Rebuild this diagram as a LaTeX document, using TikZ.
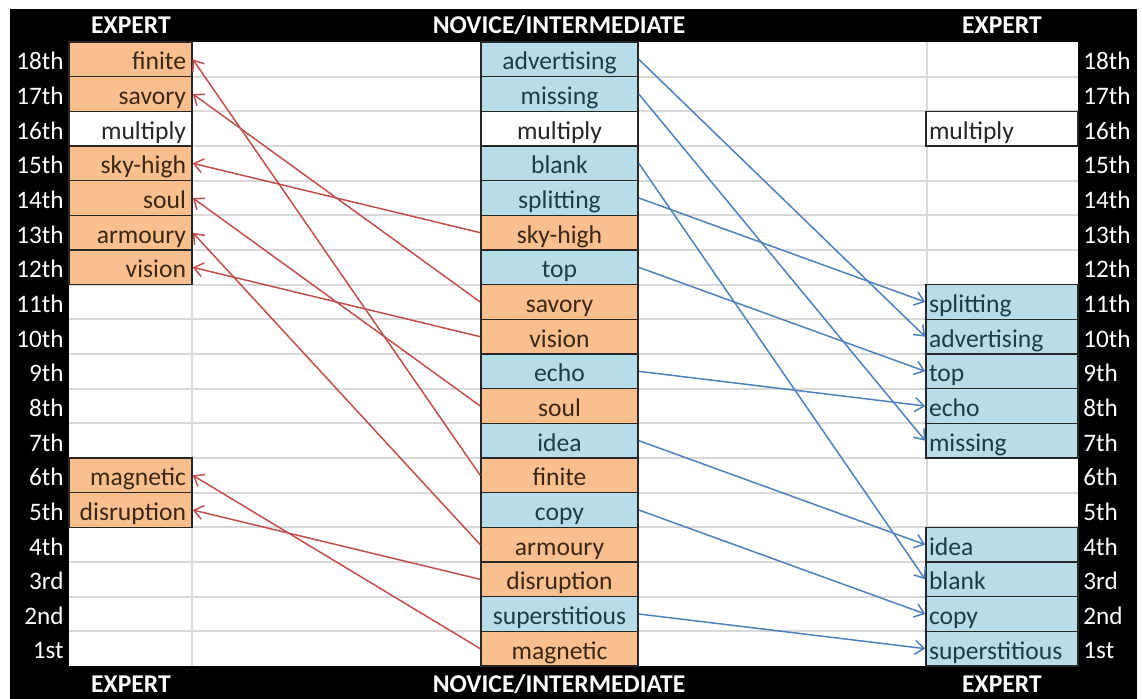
\documentclass[tikz,border=0pt]{standalone}
\usepackage{fontspec}
\setmainfont{Carlito}
\usetikzlibrary{arrows.meta}
\definecolor{cellorange}{HTML}{FABF8F}
\definecolor{cellblue}{HTML}{B7DEE8}
\definecolor{linkred}{HTML}{C0504D}
\definecolor{linkblue}{HTML}{4F81BD}
\definecolor{gridgray}{HTML}{D9D9D9}
\definecolor{textbrown}{HTML}{3B2714}
\definecolor{textteal}{HTML}{1A3D4C}
\tikzset{
  cell/.style={draw=black!85, line width=0.8pt, minimum height=17.33pt, inner ysep=0pt,
    text height=11pt, text depth=0.4pt, font=\fontsize{12.8}{14}\selectfont},
  lcell/.style={cell, text width=55.5pt, inner xsep=3pt, align=right},
  mcell/.style={cell, text width=72.5pt, inner xsep=3pt, align=center},
  rcell/.style={cell, text width=73pt, inner xsep=1.5pt, align=left},
  orange/.style={fill=cellorange, text=textbrown},
  blue/.style={fill=cellblue, text=textteal},
  plain/.style={fill=white, text=black!85},
  ranklbl/.style={text=white, inner sep=0pt, yshift=-1pt, font=\fontsize{12.6}{14}\selectfont},
  heading/.style={text=white, inner sep=0pt, font=\fontsize{12.8}{14}\selectfont\bfseries},
  gridline/.style={gridgray, line width=1pt},
  redlink/.style={linkred, line width=0.75pt, -{Straight Barb[length=4.5pt,width=7pt]}},
  bluelink/.style={linkblue, line width=0.75pt, -{Straight Barb[length=4.5pt,width=7pt]}}
}
\begin{document}
\begin{tikzpicture}[x=0.5pt, y=-0.5pt]
    %%%%% FRAME %%%%%
    \useasboundingbox (0,0) rectangle (1142,699);
    \fill[white] (0,0) rectangle (1142,699);
    \fill[black] (10,9) rectangle (1137,699);
    \fill[white] (69,42) rectangle (1078,666);

    \node[heading] (htl) at (131,25) {EXPERT};
    \node[heading] (htm) at (559,25) {NOVICE/INTERMEDIATE};
    \node[heading] (htr) at (1002,25) {EXPERT};
    \node[heading] (hbl) at (131,684) {EXPERT};
    \node[heading] (hbm) at (559,684) {NOVICE/INTERMEDIATE};
    \node[heading] (hbr) at (1002,684) {EXPERT};

    %%%%% GRID AND RANKS %%%%%
    \foreach \k in {1,...,17}
        \draw[gridline] (69,{42+\k*34.667}) -- (1078,{42+\k*34.667});
    \draw[gridline] (192,42) -- (192,666);
    \draw[gridline] (927,42) -- (927,666);

    \foreach \r/\lab in {18/18th,17/17th,16/16th,15/15th,14/14th,13/13th,12/12th,11/11th,10/10th,
                         9/9th,8/8th,7/7th,6/6th,5/5th,4/4th,3/3rd,2/2nd,1/1st} {
        \node[ranklbl, anchor=east] (rl\r) at (64,{42+(18.5-\r)*34.667}) {\lab};
        \node[ranklbl, anchor=west] (rr\r) at (1083,{42+(18.5-\r)*34.667}) {\lab};
    }

    %%%%% LEFT EXPERT %%%%%
    \node[lcell, orange] (l18) at (130.5, 59.33) {finite};
    \node[lcell, orange] (l17) at (130.5, 94.00) {savory};
    \node[lcell, plain]  (l16) at (130.5,128.67) {multiply};
    \node[lcell, orange] (l15) at (130.5,163.33) {sky-high};
    \node[lcell, orange] (l14) at (130.5,198.00) {soul};
    \node[lcell, orange] (l13) at (130.5,232.67) {armoury};
    \node[lcell, orange] (l12) at (130.5,267.33) {vision};
    \node[lcell, orange] (l6)  at (130.5,475.33) {magnetic};
    \node[lcell, orange] (l5)  at (130.5,510.00) {disruption};

    %%%%% NOVICE/INTERMEDIATE %%%%%
    \node[mcell, blue]   (m18) at (559.5, 59.33) {advertising};
    \node[mcell, blue]   (m17) at (559.5, 94.00) {missing};
    \node[mcell, plain]  (m16) at (559.5,128.67) {multiply};
    \node[mcell, blue]   (m15) at (559.5,163.33) {blank};
    \node[mcell, blue]   (m14) at (559.5,198.00) {splitting};
    \node[mcell, orange] (m13) at (559.5,232.67) {sky-high};
    \node[mcell, blue]   (m12) at (559.5,267.33) {top};
    \node[mcell, orange] (m11) at (559.5,302.00) {savory};
    \node[mcell, orange] (m10) at (559.5,336.67) {vision};
    \node[mcell, blue]   (m9)  at (559.5,371.33) {echo};
    \node[mcell, orange] (m8)  at (559.5,406.00) {soul};
    \node[mcell, blue]   (m7)  at (559.5,440.67) {idea};
    \node[mcell, orange] (m6)  at (559.5,475.33) {finite};
    \node[mcell, blue]   (m5)  at (559.5,510.00) {copy};
    \node[mcell, orange] (m4)  at (559.5,544.67) {armoury};
    \node[mcell, orange] (m3)  at (559.5,579.33) {disruption};
    \node[mcell, blue]   (m2)  at (559.5,614.00) {superstitious};
    \node[mcell, orange] (m1)  at (559.5,648.67) {magnetic};

    %%%%% RIGHT EXPERT %%%%%
    \node[rcell, plain]  (r16) at (1002,128.67) {multiply};
    \node[rcell, blue]   (r11) at (1002,302.00) {splitting};
    \node[rcell, blue]   (r10) at (1002,336.67) {advertising};
    \node[rcell, blue]   (r9)  at (1002,371.33) {top};
    \node[rcell, blue]   (r8)  at (1002,406.00) {echo};
    \node[rcell, blue]   (r7)  at (1002,440.67) {missing};
    \node[rcell, blue]   (r4)  at (1002,544.67) {idea};
    \node[rcell, blue]   (r3)  at (1002,579.33) {blank};
    \node[rcell, blue]   (r2)  at (1002,614.00) {copy};
    \node[rcell, blue]   (r1)  at (1002,648.67) {superstitious};

    %%%%% LINKS %%%%%
    \draw[redlink] (m13.west) -- (l15.east);
    \draw[redlink] (m11.west) -- (l17.east);
    \draw[redlink] (m10.west) -- (l12.east);
    \draw[redlink] (m8.west) -- (l14.east);
    \draw[redlink] (m6.west) -- (l18.east);
    \draw[redlink] (m4.west) -- (l13.east);
    \draw[redlink] (m3.west) -- (l5.east);
    \draw[redlink] (m1.west) -- (l6.east);

    \draw[bluelink] (m18.east) -- (r10.west);
    \draw[bluelink] (m17.east) -- (r7.west);
    \draw[bluelink] (m15.east) -- (r3.west);
    \draw[bluelink] (m14.east) -- (r11.west);
    \draw[bluelink] (m12.east) -- (r9.west);
    \draw[bluelink] (m9.east) -- (r8.west);
    \draw[bluelink] (m7.east) -- (r4.west);
    \draw[bluelink] (m5.east) -- (r2.west);
    \draw[bluelink] (m2.east) -- (r1.west);
\end{tikzpicture}
\end{document}
